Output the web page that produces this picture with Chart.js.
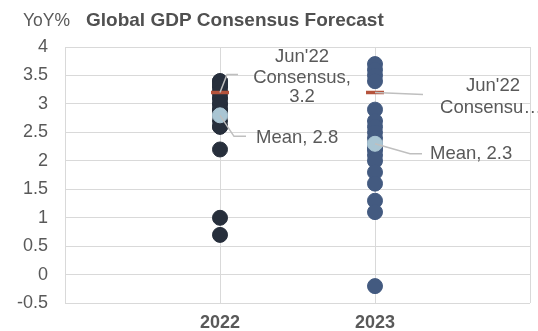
<!DOCTYPE html>
<html lang="en">
<head>
  <meta charset="UTF-8">
  <title>Global GDP Consensus Forecast</title>
  <script src="https://cdn.jsdelivr.net/npm/chart.js"></script>
  <style>
    body { margin: 0; padding: 0; background: #fff; }
    #wrap { width: 538px; height: 331px; position: relative; }
  </style>
</head>
<body>
  <div id="wrap"><canvas id="gdpChart"></canvas></div>

  <script>
    // Forecast values
    const years = [2022, 2023];
    const forecasts2022 = [3.4, 3.4, 3.35, 3.3, 3.3, 3.2, 3.2, 3.1, 3.1, 3.0, 3.0, 2.9, 2.9, 2.8, 2.7, 2.6, 2.6, 2.2, 1.0, 0.7];
    const forecasts2023 = [3.7, 3.6, 3.5, 3.4, 2.9, 2.7, 2.6, 2.5, 2.4, 2.3, 2.2, 2.2, 2.1, 2.0, 1.8, 1.6, 1.3, 1.1, -0.2];
    const consensus = [3.2, 3.2];
    const means = [2.8, 2.3];
    const yTicks = [-0.5, 0, 0.5, 1, 1.5, 2, 2.5, 3, 3.5, 4];

    const grey = '#595959';
    const fontFamily = '"Liberation Sans", Arial, sans-serif';
    const toPoints = (x, arr) => arr.map(v => ({ x: x, y: v }));

    // Title, axis unit and the leader-line labels
    const notesPlugin = {
      id: 'notes',
      afterDatasetsDraw(chart) {
        const ctx = chart.ctx;
        const xs = chart.scales.x, ys = chart.scales.y;
        ctx.save();
        ctx.fillStyle = grey;
        ctx.textBaseline = 'alphabetic';
        ctx.textAlign = 'left';
        ctx.font = '17.5px ' + fontFamily;
        ctx.fillText('YoY%', 23, 26);
        ctx.fillStyle = '#505050';
        ctx.font = 'bold 19px ' + fontFamily;
        ctx.fillText('Global GDP Consensus Forecast', 86, 26);

        ctx.fillStyle = grey;
        ctx.strokeStyle = '#bfbfbf';
        ctx.lineWidth = 1.5;
        ctx.textBaseline = 'middle';
        ctx.font = '18.5px ' + fontFamily;
        ctx.textAlign = 'center';

        // 2022 consensus
        let px = xs.getPixelForValue(years[0]), py = ys.getPixelForValue(consensus[0]);
        ctx.beginPath(); ctx.moveTo(px, py); ctx.lineTo(px + 7, py - 18); ctx.lineTo(px + 18, py - 18); ctx.stroke();
        ctx.fillText("Jun'22", px + 82, py - 36);
        ctx.fillText('Consensus,', px + 82, py - 15);
        ctx.fillText(String(consensus[0]), px + 82, py + 4);

        // 2022 mean
        py = ys.getPixelForValue(means[0]);
        ctx.beginPath(); ctx.moveTo(px, py); ctx.lineTo(px + 14, py + 21); ctx.lineTo(px + 26, py + 21); ctx.stroke();
        ctx.textAlign = 'left';
        ctx.fillText('Mean, ' + means[0], px + 36, py + 23);

        // 2023 consensus
        px = xs.getPixelForValue(years[1]); py = ys.getPixelForValue(consensus[1]);
        ctx.beginPath(); ctx.moveTo(px, py); ctx.lineTo(px + 48, py + 2); ctx.stroke();
        ctx.textAlign = 'center';
        ctx.fillText("Jun'22", px + 118, py - 7);
        ctx.fillText('Consensu\u2026', px + 116, py + 15);

        // 2023 mean
        py = ys.getPixelForValue(means[1]);
        ctx.beginPath(); ctx.moveTo(px, py); ctx.lineTo(px + 35, py + 10); ctx.lineTo(px + 47, py + 10); ctx.stroke();
        ctx.textAlign = 'left';
        ctx.fillText('Mean, ' + means[1], px + 55, py + 10);
        ctx.restore();
      }
    };

    new Chart(document.getElementById('gdpChart').getContext('2d'), {
      type: 'scatter',
      data: {
        datasets: [
          {
            label: 'Mean',
            data: years.map((x, i) => ({ x: x, y: means[i] })),
            backgroundColor: '#a9c5d3',
            borderColor: '#a9c5d3',
            pointRadius: 7.5,
            order: 0
          },
          {
            label: "Jun'22 Consensus",
            data: years.map((x, i) => ({ x: x, y: consensus[i] })),
            pointStyle: 'line',
            borderColor: '#b5533c',
            borderWidth: 3.5,
            pointRadius: 9,
            order: 1
          },
          {
            label: '2022',
            data: toPoints(years[0], forecasts2022),
            backgroundColor: '#272f3c',
            borderColor: '#272f3c',
            pointRadius: 7.5,
            order: 2
          },
          {
            label: '2023',
            data: toPoints(years[1], forecasts2023),
            backgroundColor: '#435a80',
            borderColor: '#435a80',
            pointRadius: 7.5,
            order: 3
          }
        ]
      },
      options: {
        responsive: true,
        maintainAspectRatio: false,
        animation: false,
        layout: { autoPadding: false, padding: { top: 47, right: 8, left: 0, bottom: 0 } },
        plugins: {
          legend: { display: false },
          tooltip: { enabled: false }
        },
        scales: {
          x: {
            type: 'linear',
            min: 2021,
            max: 2024,
            afterBuildTicks: (s) => { s.ticks = [2021, 2022, 2023, 2024].map(v => ({ value: v })); },
            afterFit: (s) => { s.height = 27; s.paddingLeft = 0; s.paddingRight = 0; },
            grid: { color: '#d9d9d9', lineWidth: 1, drawTicks: false },
            border: { display: false },
            ticks: {
              padding: 9,
              color: grey,
              font: { family: fontFamily, size: 18, weight: 'bold' },
              callback: (v) => years.includes(v) ? String(v) : ''
            }
          },
          y: {
            min: -0.5,
            max: 4,
            afterBuildTicks: (s) => { s.ticks = yTicks.map(v => ({ value: v })); },
            afterFit: (s) => { s.width = 65; },
            grid: { color: '#d9d9d9', lineWidth: 1, drawTicks: false },
            border: { display: false },
            ticks: {
              padding: 17,
              color: grey,
              font: { family: fontFamily, size: 18 },
              callback: (v) => String(v)
            }
          }
        }
      },
      plugins: [notesPlugin]
    });
  </script>
</body>
</html>
